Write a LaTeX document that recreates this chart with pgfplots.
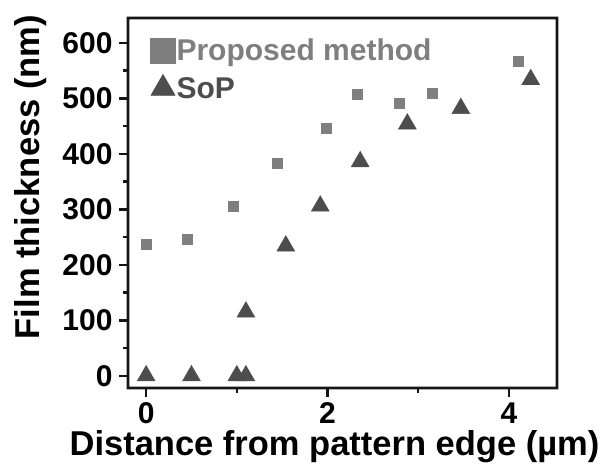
\documentclass[border=0pt]{standalone}
\usepackage{pgfplots}
\pgfplotsset{compat=1.18}
\usepackage{fontspec}
\setmainfont{Liberation Sans}
\definecolor{sqcol}{HTML}{7F7F7F}
\definecolor{tricol}{HTML}{4D4D4D}
\definecolor{framecol}{HTML}{151515}
\begin{document}
\begin{tikzpicture}
\begin{axis}[
  scale only axis,
  width=429pt, height=370pt,
  xmin=-0.2, xmax=4.53,
  ymin=-22, ymax=645,
  xtick={0,2,4}, minor xtick={1,3},
  ytick={0,100,...,600}, minor ytick={50,150,...,550},
  axis line style={draw=none},
  tick style={line width=2.4pt, framecol},
  major tick length=9pt, minor tick length=5pt,
  tick align=outside,
  xtick pos=left, ytick pos=left,
  /pgf/number format/assume math mode=true,
  ticklabel style={font=\fontsize{30}{33}\selectfont\bfseries},
  yticklabel style={xshift=-3pt},
  xticklabel style={yshift=-2pt},
  xlabel={Distance from pattern edge (µm)},
  ylabel={Film thickness (nm)},
  xlabel style={font=\fontsize{34.5}{38}\selectfont\bfseries,
    at={(axis description cs:0.5,0)}, anchor=base, yshift=-68pt, xshift=-8pt},
  ylabel style={font=\fontsize{34.5}{38}\selectfont\bfseries,
    at={(ticklabel cs:0.57,9pt)}},
  legend style={draw=none, fill=none, at={(0.052,0.949)}, anchor=north west,
    font=\fontsize{30}{33}\selectfont\bfseries, row sep=10pt,
    inner sep=0pt, nodes={inner xsep=1pt}},
  legend cell align=left,
  legend image code/.code={\draw[#1] plot coordinates {(0.2cm,0cm)};},
]
\addplot[only marks, mark=square*, mark size=5pt, draw=sqcol, fill=sqcol,
  legend image post style={mark size=12.5pt}]
  coordinates {
  (0,238) (0.45,247) (0.96,306) (1.45,384) (1.98,447)
  (2.33,507) (2.79,491) (3.15,510) (4.10,567)
};
\addplot[only marks, mark=triangle*, mark size=10.4pt, draw=tricol, fill=tricol,
  legend image post style={mark size=14pt}]
  coordinates {
  (0,0) (0.50,0) (1.00,0) (1.10,0) (1.10,115) (1.54,234)
  (1.92,306) (2.36,386) (2.88,454) (3.47,482) (4.24,534)
};
\legend{\textcolor{sqcol}{Proposed method},\textcolor{tricol}{SoP}}
\coordinate (fsw) at (rel axis cs:0,0);
\coordinate (fne) at (rel axis cs:1,1);
\end{axis}
% frame as a filled band (even odd rule)
\fill[framecol, even odd rule]
  ([xshift=-1.3pt,yshift=-1.3pt]fsw) -- ([xshift=-1.3pt,yshift=1.3pt]fsw |- fne)
  -- ([xshift=1.3pt,yshift=1.3pt]fne) -- ([xshift=1.3pt,yshift=-1.3pt]fne |- fsw) -- cycle
  ([xshift=1.3pt,yshift=1.3pt]fsw) -- ([xshift=1.3pt,yshift=-1.3pt]fsw |- fne)
  -- ([xshift=-1.3pt,yshift=-1.3pt]fne) -- ([xshift=-1.3pt,yshift=1.3pt]fne |- fsw) -- cycle;
\path[use as bounding box] ([xshift=-128pt,yshift=-78pt]fsw) -- ([xshift=54pt,yshift=18pt]fne);
\end{tikzpicture}
\end{document}
